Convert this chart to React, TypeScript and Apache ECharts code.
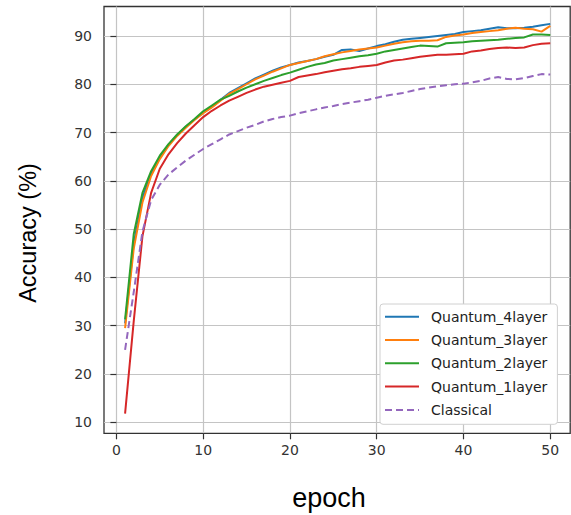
import React, { useEffect, useRef } from "react";
import * as echarts from "echarts";

const epochs = [
  1, 2, 3, 4, 5, 6, 7, 8, 9, 10, 11, 12, 13, 14, 15, 16, 17, 18, 19, 20, 21, 22, 23, 24, 25,
  26, 27, 28, 29, 30, 31, 32, 33, 34, 35, 36, 37, 38, 39, 40, 41, 42, 43, 44, 45, 46, 47, 48, 49, 50,
];

const quantum4 = [
  30.5, 47, 56.5, 61.5, 64.8, 67.4, 69.5, 71.2, 72.7, 74.1, 75.3, 76.8, 78.2, 79.2, 80.2, 81.2, 82.0, 82.8, 83.5, 84.0,
  84.5, 84.8, 85.2, 85.7, 86.1, 87.1, 87.2, 86.9, 87.4, 87.9, 88.3, 88.8, 89.2, 89.4, 89.6, 89.8, 90.0, 90.2, 90.4, 90.8,
  91.0, 91.2, 91.5, 91.8, 91.6, 91.6, 91.7, 91.9, 92.2, 92.5,
];

const quantum3 = [
  29.5, 46, 55.5, 61, 64.5, 67.2, 69.3, 71, 72.6, 74.0, 75.2, 76.6, 78.0, 79.0, 80.0, 81.0, 81.8, 82.6, 83.3, 84.0,
  84.4, 84.8, 85.2, 85.8, 86.2, 86.6, 86.9, 87.2, 87.4, 87.6, 88.0, 88.4, 88.7, 88.9, 89.0, 89.0, 89.1, 89.8, 90.1, 90.3,
  90.6, 90.8, 91.0, 91.2, 91.5, 91.7, 91.5, 91.4, 90.9, 92.1,
];

const quantum2 = [
  31.3, 49, 57.5, 62, 65.2, 67.6, 69.6, 71.3, 72.8, 74.4, 75.6, 76.8, 77.6, 78.5, 79.3, 80.0, 80.7, 81.3, 81.9, 82.4,
  83.0, 83.6, 84.1, 84.4, 84.9, 85.2, 85.5, 85.8, 86.0, 86.3, 86.8, 87.1, 87.4, 87.7, 88.0, 87.9, 87.8, 88.5, 88.6, 88.7,
  88.9, 89.0, 89.1, 89.2, 89.4, 89.6, 89.7, 90.3, 90.3, 90.2,
];

const quantum1 = [
  11.8, 31, 48.5, 57.5, 62.5, 65.5, 67.8, 69.8, 71.5, 73.2, 74.5, 75.6, 76.6, 77.4, 78.2, 78.9, 79.5, 79.9, 80.3, 80.7,
  81.5, 81.8, 82.1, 82.5, 82.8, 83.1, 83.3, 83.6, 83.8, 84.0, 84.5, 84.9, 85.1, 85.4, 85.7, 85.9, 86.1, 86.1, 86.2, 86.3,
  86.8, 87.0, 87.3, 87.5, 87.6, 87.5, 87.6, 88.1, 88.4, 88.5,
];

const classical = [
  25, 37, 49.5, 56, 59.2, 61.3, 62.8, 64.2, 65.4, 66.6, 67.6, 68.6, 69.6, 70.3, 71.0, 71.6, 72.3, 72.8, 73.2, 73.5,
  74.0, 74.4, 74.8, 75.2, 75.5, 75.9, 76.2, 76.5, 76.8, 77.2, 77.6, 77.9, 78.2, 78.6, 79.0, 79.3, 79.6, 79.8, 80.0, 80.1,
  80.4, 80.7, 81.2, 81.5, 81.1, 81.0, 81.3, 81.7, 82.1, 82.0,
];

const xTicks = [0, 10, 20, 30, 40, 50];
const yTicks = [10, 20, 30, 40, 50, 60, 70, 80, 90];

const seriesDefs = [
  { name: "Quantum_4layer", data: quantum4, color: "#1f77b4", dashed: false },
  { name: "Quantum_3layer", data: quantum3, color: "#ff7f0e", dashed: false },
  { name: "Quantum_2layer", data: quantum2, color: "#2ca02c", dashed: false },
  { name: "Quantum_1layer", data: quantum1, color: "#d62728", dashed: false },
  { name: "Classical", data: classical, color: "#9467bd", dashed: true },
];

const X_MIN = -1.43;
const X_MAX = 52.3;
const Y_MIN = 7.72;
const Y_MAX = 96.1;

export default function App() {
  const ref = useRef<HTMLDivElement>(null);

  useEffect(() => {
    if (!ref.current) return;
    const chart = echarts.init(ref.current, undefined, { renderer: "svg" });
    const tickFont = { fontFamily: "DejaVu Sans", fontSize: 14, color: "#333" };
    chart.setOption({
      animation: false,
      backgroundColor: "#fff",
      grid: {
        left: 104,
        top: 6.5,
        right: 0.8,
        bottom: 81.7,
        outerBoundsMode: "none",
        containLabel: false,
        show: true,
        borderColor: "#333",
        borderWidth: 1.3,
        backgroundColor: "transparent",
      },
      xAxis: {
        type: "value",
        min: X_MIN,
        max: X_MAX,
        axisLine: { show: false },
        axisTick: { show: true, customValues: xTicks, length: 6, lineStyle: { color: "#333", width: 1.2 } },
        axisLabel: { customValues: xTicks, margin: 10, ...tickFont },
        splitLine: { show: true, lineStyle: { color: "#c4c4c4", width: 1.2 } },
      },
      yAxis: {
        type: "value",
        min: Y_MIN,
        max: Y_MAX,
        axisLine: { show: false },
        axisTick: { show: true, customValues: yTicks, length: 6, lineStyle: { color: "#333", width: 1.2 } },
        axisLabel: { customValues: yTicks, margin: 12, ...tickFont },
        splitLine: { show: true, lineStyle: { color: "#c4c4c4", width: 1.2 } },
      },
      legend: {
        orient: "vertical",
        left: 380,
        top: 304,
        padding: [5.7, 10, 7.4, 4],
        itemWidth: 34,
        itemHeight: 14,
        itemGap: 9.3,
        backgroundColor: "#fff",
        borderColor: "#d0d0d0",
        borderWidth: 1,
        borderRadius: 3,
        itemStyle: { opacity: 0 },
        textStyle: {
          fontFamily: "DejaVu Sans",
          fontSize: 14,
          lineHeight: 14,
          color: "#222",
          padding: [0, 0, 0, 7],
        },
        data: seriesDefs.map((s) => s.name),
      },
      series: seriesDefs.map((s) => ({
        name: s.name,
        type: "line",
        symbol: "none",
        data: epochs.map((e, i) => [e, s.data[i]]),
        lineStyle: {
          color: s.color,
          width: 2,
          type: s.dashed ? [7, 4] : "solid",
        },
        itemStyle: { color: s.color },
      })),
      graphic: [
        {
          type: "text",
          x: 28,
          y: 233,
          rotation: Math.PI / 2,
          style: {
            text: "Accuracy (%)",
            fontFamily: "Liberation Sans",
            fontSize: 23.5,
            fill: "#000",
            align: "center",
            verticalAlign: "middle",
          },
        },
        {
          type: "text",
          x: 329,
          y: 498,
          style: {
            text: "epoch",
            fontFamily: "Liberation Sans",
            fontSize: 27,
            fill: "#000",
            align: "center",
            verticalAlign: "middle",
          },
        },
      ],
    });
    return () => chart.dispose();
  }, []);

  return (
    <div
      ref={ref}
      style={{ position: "fixed", left: 0, top: 0, width: 571, height: 515 }}
    />
  );
}
